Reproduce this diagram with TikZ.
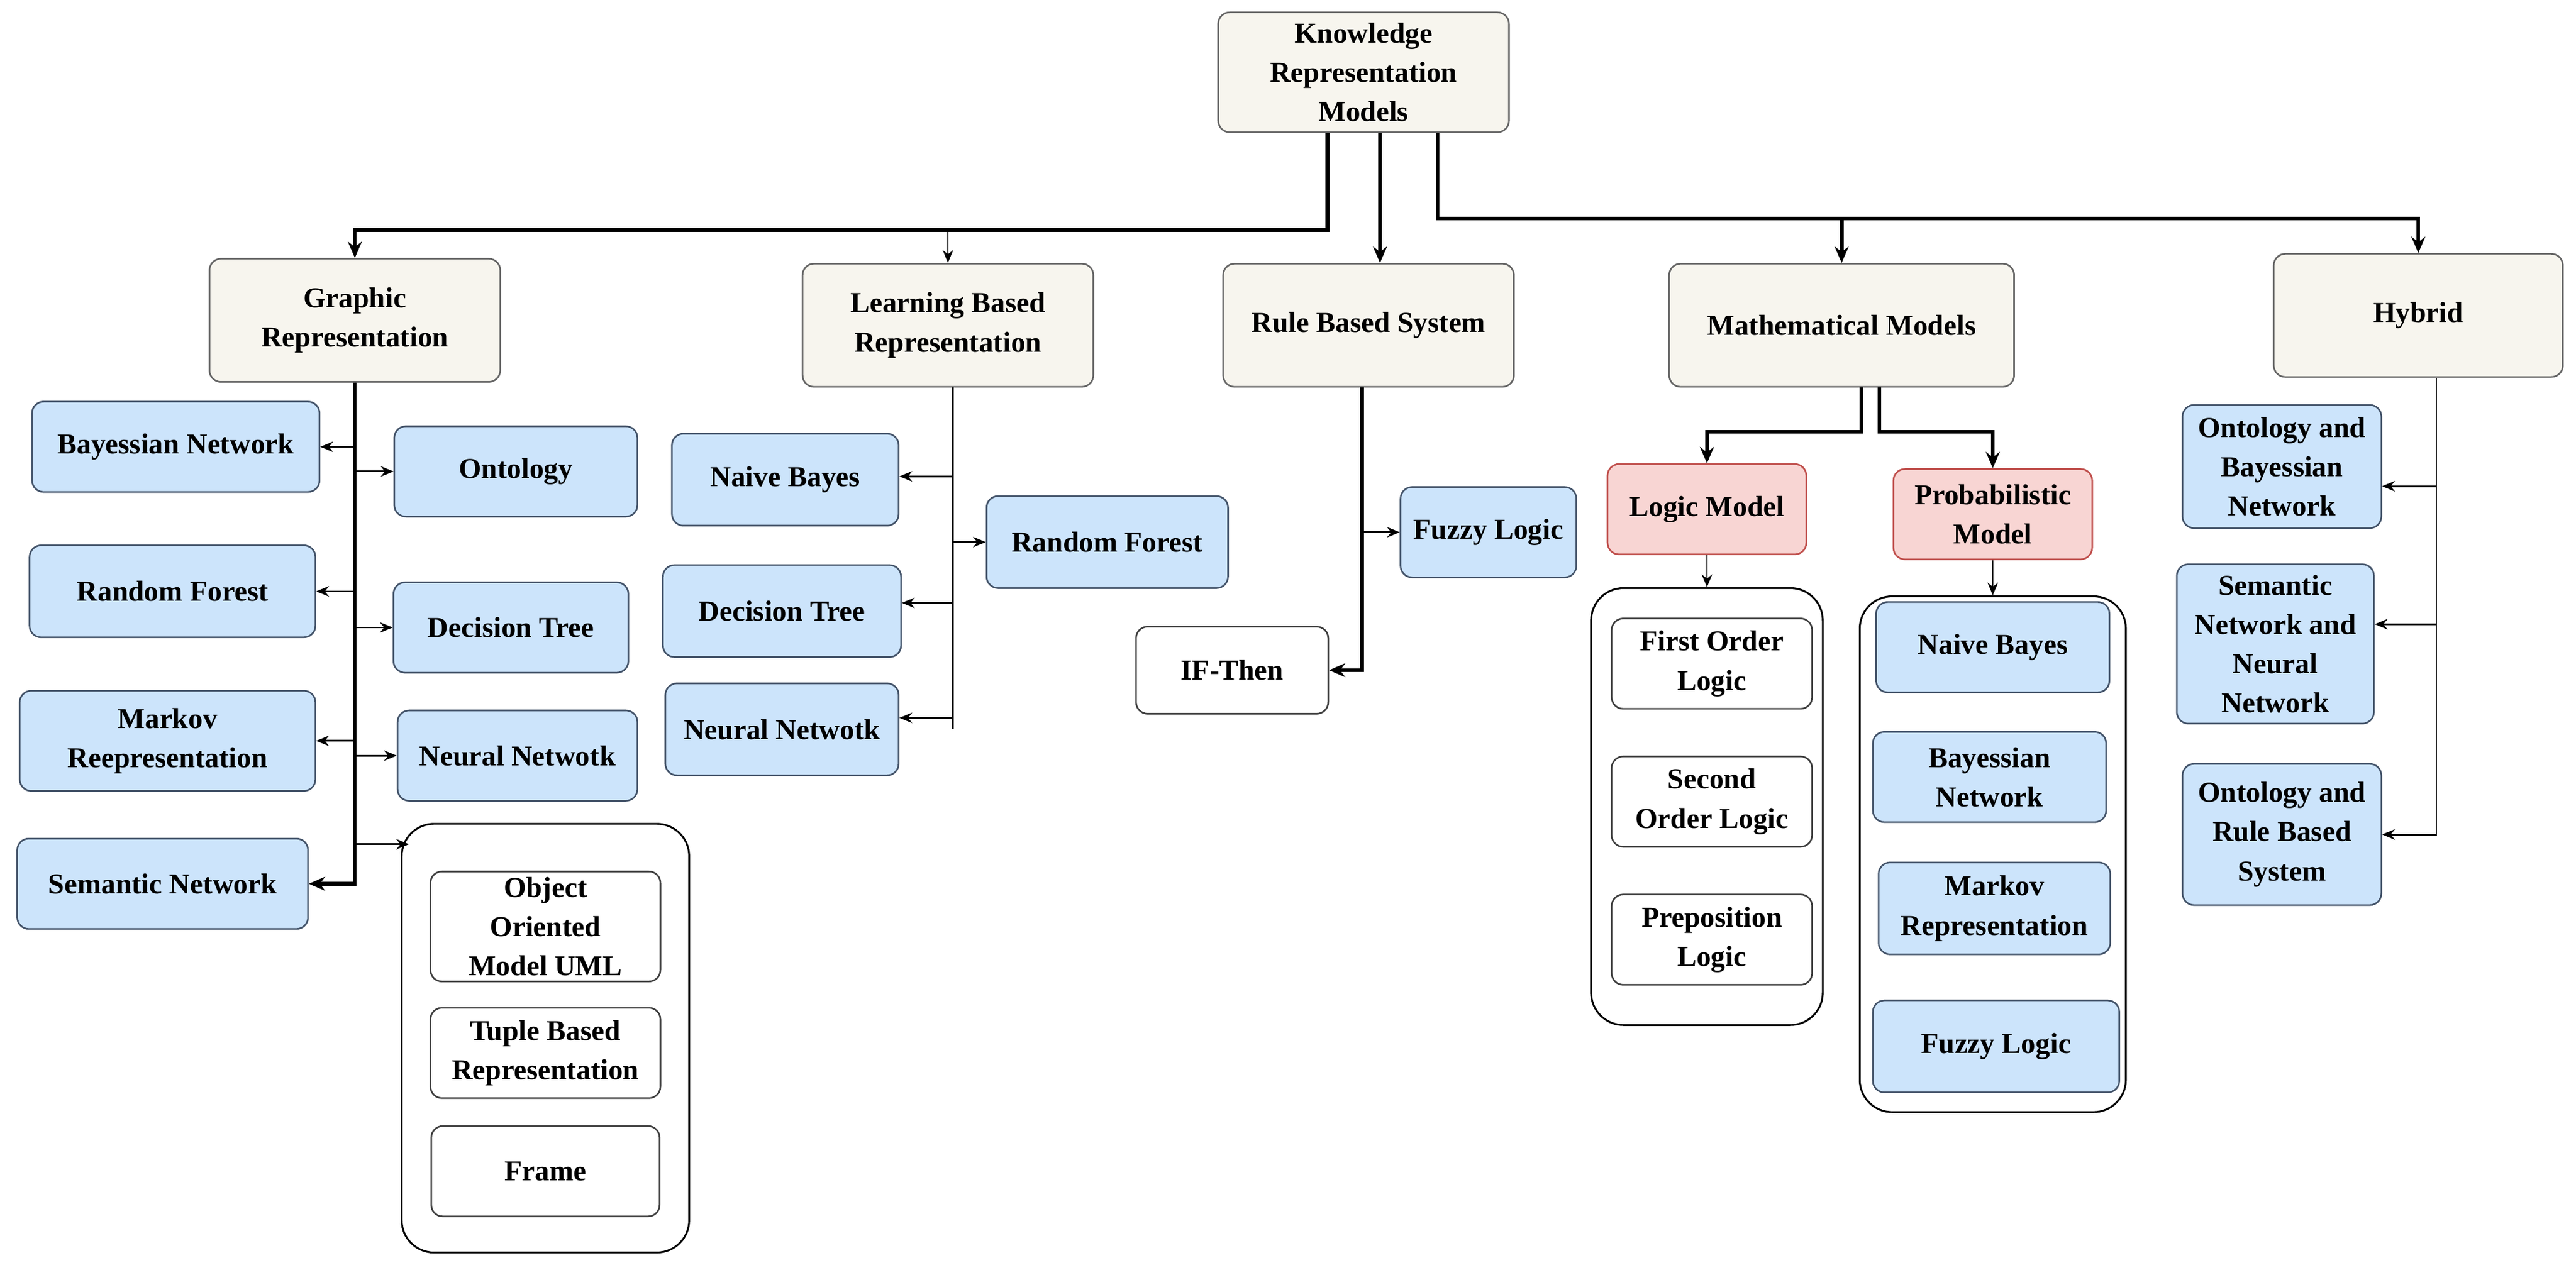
\documentclass[tikz,border=0pt]{standalone}
\usepackage{fontspec}
\setmainfont{Liberation Serif}
\usetikzlibrary{arrows.meta,calc}
\definecolor{beige}{HTML}{F7F5EE}
\definecolor{bl}{HTML}{CCE4FB}
\definecolor{blb}{HTML}{44546A}
\definecolor{pk}{HTML}{F8D5D3}
\definecolor{pkb}{HTML}{C0504D}
\tikzset{
 box/.style={draw=black!75,line width=1.4pt,rounded corners=10pt,align=center,inner sep=0pt,
   font=\fontsize{25}{34}\selectfont\bfseries},
 top/.style={box,fill=beige,draw=black!60},
 blue/.style={box,fill=bl,draw=blb},
 pink/.style={box,fill=pk,draw=pkb},
 white/.style={box,fill=white},
 cont/.style={draw=black,line width=1.6pt,rounded corners=28pt,fill=none},
 ar/.style={-{Stealth[length=11pt,width=9pt]},line width=1.4pt},
 tar/.style={-{Stealth[length=14pt,width=12pt]},line width=3.2pt},
 ln/.style={line width=1.4pt},
}
\begin{document}
\begin{tikzpicture}[x=0.05cm,y=-0.05cm]
\useasboundingbox (0,0) rectangle (1568,776);
% containers first
\node[cont,minimum width=8.75cm,minimum height=13.05cm] (big) at (332,632) {};
\node[cont,minimum width=7.05cm,minimum height=13.3cm] (lbox) at (1039,491) {};
\node[cont,minimum width=8.1cm,minimum height=15.7cm] (pbox) at (1213,520) {};
% top level
\node[top,minimum width=8.85cm,minimum height=3.65cm] (root) at (830,44) {Knowledge\\Representation\\Models};
\node[top,minimum width=8.85cm,minimum height=3.75cm] (gr) at (216,195) {Graphic\\Representation};
\node[top,minimum width=8.85cm,minimum height=3.75cm] (lb) at (577,198) {Learning Based\\Representation};
\node[top,minimum width=8.85cm,minimum height=3.75cm] (rb) at (833,198) {Rule Based System};
\node[top,minimum width=10.5cm,minimum height=3.75cm] (mm) at (1121,198) {Mathematical Models};
\node[top,minimum width=8.8cm,minimum height=3.75cm] (hy) at (1472,192) {Hybrid};
% graphic
\node[blue,minimum width=8.75cm,minimum height=2.75cm] (g1) at (107,272) {Bayessian Network};
\node[blue,minimum width=7.4cm,minimum height=2.75cm] (g2) at (314,287) {Ontology};
\node[blue,minimum width=8.7cm,minimum height=2.8cm] (g3) at (105,360) {Random Forest};
\node[blue,minimum width=7.15cm,minimum height=2.75cm] (g4) at (311,382) {Decision Tree};
\node[blue,minimum width=9cm,minimum height=3.05cm] (g5) at (102,451) {Markov\\Reepresentation};
\node[blue,minimum width=7.3cm,minimum height=2.75cm] (g6) at (315,460) {Neural Netwotk};
\node[blue,minimum width=8.85cm,minimum height=2.75cm] (g7) at (99,538) {Semantic Network};
\node[white,minimum width=7cm,minimum height=3.35cm] (o1) at (332,564) {Object\\Oriented\\Model UML};
\node[white,minimum width=7cm,minimum height=2.75cm] (o2) at (332,641) {Tuple Based\\Representation};
\node[white,minimum width=6.95cm,minimum height=2.75cm] (o3) at (332,713) {Frame};
% learning
\node[blue,minimum width=6.9cm,minimum height=2.8cm] (l1) at (478,292) {Naive Bayes};
\node[blue,minimum width=7.35cm,minimum height=2.8cm] (l2) at (674,330) {Random Forest};
\node[blue,minimum width=7.25cm,minimum height=2.8cm] (l3) at (476,372) {Decision Tree};
\node[blue,minimum width=7.1cm,minimum height=2.8cm] (l4) at (476,444) {Neural Netwotk};
% rule
\node[blue,minimum width=5.35cm,minimum height=2.75cm] (r1) at (906,324) {Fuzzy Logic};
\node[white,minimum width=5.85cm,minimum height=2.65cm] (r2) at (750,408) {IF-Then};
% math
\node[pink,minimum width=6.05cm,minimum height=2.75cm] (lm) at (1039,310) {Logic Model};
\node[pink,minimum width=6.05cm,minimum height=2.75cm] (pm) at (1213,313) {Probabilistic\\Model};
\node[white,minimum width=6.1cm,minimum height=2.75cm] (m1) at (1042,404) {First Order\\Logic};
\node[white,minimum width=6.1cm,minimum height=2.75cm] (m2) at (1042,488) {Second\\Order Logic};
\node[white,minimum width=6.1cm,minimum height=2.75cm] (m3) at (1042,572) {Preposition\\Logic};
\node[blue,minimum width=7.1cm,minimum height=2.75cm] (p1) at (1213,394) {Naive Bayes};
\node[blue,minimum width=7.1cm,minimum height=2.75cm] (p2) at (1211,473) {Bayessian\\Network};
\node[blue,minimum width=7.05cm,minimum height=2.8cm] (p3) at (1214,553) {Markov\\Representation};
\node[blue,minimum width=7.5cm,minimum height=2.8cm] (p4) at (1215,637) {Fuzzy Logic};
% hybrid
\node[blue,minimum width=6.05cm,minimum height=3.75cm] (h1) at (1389,284) {Ontology and\\Bayessian\\Network};
\node[blue,minimum width=6cm,minimum height=4.85cm] (h2) at (1385,392) {Semantic\\Network and\\Neural\\Network};
\node[blue,minimum width=6.05cm,minimum height=4.3cm] (h3) at (1389,508) {Ontology and\\Rule Based\\System};
% root connectors
\draw[tar] ([xshift=-1.1cm]root.south) -- ++(0,59) -| (gr.north);
\coordinate (j1) at (577,140);
\draw[ar] (j1) -- (lb.north);
\draw[tar] ([xshift=0.5cm]root.south) -- ([xshift=0.35cm]rb.north);
\draw[tar] ([xshift=2.25cm]root.south) -- ++(0,52) -| (hy.north);
\coordinate (j2) at (1121,133);
\draw[tar] (j2) -- (mm.north);
% graphic
\draw[line width=2.2pt] (gr.south) -- ([yshift=0.07cm]gr.south |- g7.east);
\draw[ar] (gr.south) |- (g1.east);
\draw[ar] (gr.south) |- (g2.west);
\draw[ar] (gr.south) |- (g3.east);
\draw[ar] (gr.south) |- (g4.west);
\draw[ar] (gr.south) |- (g5.east);
\draw[ar] (gr.south) |- (g6.west);
\draw[tar] (gr.south) |- (g7.east);
\draw[ar] (gr.south) |- ([shift={(5,13)}]big.north west);
% learning
\draw[ln] ([xshift=0.15cm]lb.south) -- ([xshift=0.15cm]lb.south |- l4.east);
\draw[ar] ([xshift=0.15cm]lb.south) |- ([yshift=0.1cm]l1.east);
\draw[ar] ([xshift=0.15cm]lb.south) |- (l2.west);
\draw[ar] ([xshift=0.15cm]lb.south) |- ([yshift=0.25cm]l3.east);
\draw[ar] ([xshift=0.15cm]lb.south) |- ([yshift=0.35cm]l4.east);
% rule
\draw[tar] ([xshift=-0.2cm]rb.south) |- (r2.east);
\draw[ar] ([xshift=-0.2cm]rb.south) |- (r1.west);
% math
\draw[tar] ([xshift=0.6cm]mm.south) -- ++(0,27) -| (lm.north);
\draw[tar] ([xshift=1.15cm]mm.south) -- ++(0,27) -| (pm.north);
\draw[ar] (lm.south) -- (lbox.north);
\draw[ar] (pm.south) -- (pbox.north);
% hybrid
\draw[ln] ([xshift=0.55cm]hy.south) -- ([xshift=0.55cm]hy.south |- h3.east);
\draw[ar] ([xshift=0.55cm]hy.south) |- ([yshift=-0.6cm]h1.east);
\draw[ar] ([xshift=0.55cm]hy.south) |- ([yshift=0.6cm]h2.east);
\draw[ar] ([xshift=0.55cm]hy.south) |- (h3.east);
\end{tikzpicture}
\end{document}
